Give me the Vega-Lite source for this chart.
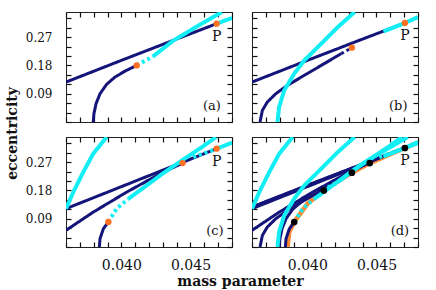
{
  "$schema": "https://vega.github.io/schema/vega-lite/v6.json",
  "padding": {"left": 4, "top": 10, "right": 0, "bottom": 0},
  "background": "white",
  "config": {
    "view": {"stroke": "#222", "strokeWidth": 1},
    "axis": {"grid": false, "domain": false, "ticks": true, "offset": -5, "tickSize": 5, "tickColor": "#111", "tickWidth": 1.2, "tickOpacity": 1,
      "labelFont": "DejaVu Serif", "labelColor": "#111", "labelOverlap": false, "labelFlush": false,
      "titleFont": "DejaVu Serif", "titleFontWeight": "bold", "titleFontSize": 14, "titleColor": "#111"},
    "axisX": {"labelFontSize": 14, "labelPadding": 11},
    "axisY": {"labelFontSize": 12, "labelPadding": 14}
  },
  "datasets": {
    "curves": [
      {"p":"a","id":"a1","f":"n","d":"s","x":0.036,"y":0.127},
      {"p":"a","id":"a1","f":"n","d":"s","x":0.040,"y":0.196},
      {"p":"a","id":"a1","f":"n","d":"s","x":0.044,"y":0.264},
      {"p":"a","id":"a1","f":"n","d":"s","x":0.04689,"y":0.3128},
      {"p":"a","id":"a2","f":"n","d":"s","x":0.03797,"y":0},
      {"p":"a","id":"a2","f":"n","d":"s","x":0.03802,"y":0.0265},
      {"p":"a","id":"a2","f":"n","d":"s","x":0.03817,"y":0.058},
      {"p":"a","id":"a2","f":"n","d":"s","x":0.03846,"y":0.090},
      {"p":"a","id":"a2","f":"n","d":"s","x":0.03894,"y":0.120},
      {"p":"a","id":"a2","f":"n","d":"s","x":0.03954,"y":0.143},
      {"p":"a","id":"a2","f":"n","d":"s","x":0.04027,"y":0.162},
      {"p":"a","id":"a2","f":"n","d":"s","x":0.04111,"y":0.180},
      {"p":"a","id":"a3","f":"c","d":"d","x":0.04111,"y":0.180},
      {"p":"a","id":"a3","f":"c","d":"d","x":0.0423,"y":0.209},
      {"p":"a","id":"a4","f":"c","d":"s","x":0.0423,"y":0.209},
      {"p":"a","id":"a4","f":"c","d":"s","x":0.04376,"y":0.259},
      {"p":"a","id":"a4","f":"c","d":"s","x":0.0455,"y":0.305},
      {"p":"a","id":"a4","f":"c","d":"s","x":0.04726,"y":0.35},
      {"p":"a","id":"a5","f":"c","d":"s","x":0.04689,"y":0.3128},
      {"p":"a","id":"a5","f":"c","d":"s","x":0.048,"y":0.331},

      {"p":"b","id":"b1","f":"n","d":"s","x":0.036,"y":0.127},
      {"p":"b","id":"b1","f":"n","d":"s","x":0.040,"y":0.196},
      {"p":"b","id":"b1","f":"n","d":"s","x":0.044,"y":0.264},
      {"p":"b","id":"b1","f":"n","d":"s","x":0.04705,"y":0.315},
      {"p":"b","id":"b2","f":"n","d":"s","x":0.03658,"y":0},
      {"p":"b","id":"b2","f":"n","d":"s","x":0.03675,"y":0.037},
      {"p":"b","id":"b2","f":"n","d":"s","x":0.03711,"y":0.0636},
      {"p":"b","id":"b2","f":"n","d":"s","x":0.03772,"y":0.090},
      {"p":"b","id":"b2","f":"n","d":"s","x":0.03857,"y":0.1167},
      {"p":"b","id":"b2","f":"n","d":"s","x":0.03978,"y":0.1485},
      {"p":"b","id":"b2","f":"n","d":"s","x":0.041,"y":0.180},
      {"p":"b","id":"b2","f":"n","d":"s","x":0.04245,"y":0.2174},
      {"p":"b","id":"b2d","f":"n","d":"d","x":0.04245,"y":0.2174},
      {"p":"b","id":"b2d","f":"n","d":"d","x":0.04322,"y":0.2365},
      {"p":"b","id":"b3","f":"c","d":"s","x":0.03784,"y":0},
      {"p":"b","id":"b3","f":"c","d":"s","x":0.03796,"y":0.0477},
      {"p":"b","id":"b3","f":"c","d":"s","x":0.03833,"y":0.1008},
      {"p":"b","id":"b3","f":"c","d":"s","x":0.03905,"y":0.1537},
      {"p":"b","id":"b3","f":"c","d":"s","x":0.03978,"y":0.196},
      {"p":"b","id":"b3","f":"c","d":"s","x":0.041,"y":0.249},
      {"p":"b","id":"b3","f":"c","d":"s","x":0.0422,"y":0.302},
      {"p":"b","id":"b3","f":"c","d":"s","x":0.04342,"y":0.35},
      {"p":"b","id":"b4","f":"c","d":"s","x":0.0455,"y":0.288},
      {"p":"b","id":"b4","f":"c","d":"s","x":0.04705,"y":0.315},
      {"p":"b","id":"b4","f":"c","d":"s","x":0.048,"y":0.334},

      {"p":"c","id":"c1","f":"c","d":"s","x":0.036,"y":0.122},
      {"p":"c","id":"c1","f":"c","d":"s","x":0.03653,"y":0.175},
      {"p":"c","id":"c1","f":"c","d":"s","x":0.03725,"y":0.2386},
      {"p":"c","id":"c1","f":"c","d":"s","x":0.03797,"y":0.297},
      {"p":"c","id":"c1","f":"c","d":"s","x":0.03894,"y":0.35},
      {"p":"c","id":"c2","f":"n","d":"s","x":0.036,"y":0.122},
      {"p":"c","id":"c2","f":"n","d":"s","x":0.040,"y":0.192},
      {"p":"c","id":"c2","f":"n","d":"s","x":0.044,"y":0.262},
      {"p":"c","id":"c2","f":"n","d":"s","x":0.04689,"y":0.3128},
      {"p":"c","id":"c3","f":"n","d":"s","x":0.036,"y":0.053},
      {"p":"c","id":"c3","f":"n","d":"s","x":0.03797,"y":0.111},
      {"p":"c","id":"c3","f":"n","d":"s","x":0.0404,"y":0.175},
      {"p":"c","id":"c3","f":"n","d":"s","x":0.0428,"y":0.233},
      {"p":"c","id":"c3","f":"n","d":"s","x":0.04443,"y":0.267},
      {"p":"c","id":"c4","f":"n","d":"s","x":0.03841,"y":0},
      {"p":"c","id":"c4","f":"n","d":"s","x":0.03846,"y":0.0265},
      {"p":"c","id":"c4","f":"n","d":"s","x":0.0387,"y":0.058},
      {"p":"c","id":"c4","f":"n","d":"s","x":0.03906,"y":0.0795},
      {"p":"c","id":"c5","f":"c","d":"d","x":0.03906,"y":0.0795},
      {"p":"c","id":"c5","f":"c","d":"d","x":0.03966,"y":0.122},
      {"p":"c","id":"c5","f":"c","d":"d","x":0.0405,"y":0.153},
      {"p":"c","id":"c6","f":"c","d":"s","x":0.0405,"y":0.153},
      {"p":"c","id":"c6","f":"c","d":"s","x":0.0418,"y":0.195},
      {"p":"c","id":"c6","f":"c","d":"s","x":0.0430,"y":0.234},
      {"p":"c","id":"c6","f":"c","d":"s","x":0.0445,"y":0.279},
      {"p":"c","id":"c6","f":"c","d":"s","x":0.0459,"y":0.320},
      {"p":"c","id":"c6","f":"c","d":"s","x":0.04685,"y":0.35},
      {"p":"c","id":"c7","f":"c","d":"d","x":0.0452,"y":0.286},
      {"p":"c","id":"c7","f":"c","d":"d","x":0.04689,"y":0.3128},
      {"p":"c","id":"c8","f":"c","d":"s","x":0.04689,"y":0.3128},
      {"p":"c","id":"c8","f":"c","d":"s","x":0.048,"y":0.332},

      {"p":"d","id":"d1","f":"o","d":"s","x":0.03857,"y":0},
      {"p":"d","id":"d1","f":"o","d":"s","x":0.03869,"y":0.0477},
      {"p":"d","id":"d1","f":"o","d":"s","x":0.03905,"y":0.0795},
      {"p":"d","id":"d1","f":"o","d":"s","x":0.04002,"y":0.138},
      {"p":"d","id":"d1","f":"o","d":"s","x":0.04119,"y":0.180},
      {"p":"d","id":"d1","f":"o","d":"s","x":0.04322,"y":0.2365},
      {"p":"d","id":"d1","f":"o","d":"s","x":0.04451,"y":0.267},
      {"p":"d","id":"d1","f":"o","d":"s","x":0.04705,"y":0.315},
      {"p":"d","id":"d1","f":"o","d":"s","x":0.048,"y":0.332}
    ],
    "pts": [
      {"p":"a","x":0.04111,"y":0.180,"lab":""},
      {"p":"a","x":0.04689,"y":0.3128,"lab":"P"},
      {"p":"b","x":0.04322,"y":0.2365,"lab":""},
      {"p":"b","x":0.04705,"y":0.315,"lab":"P"},
      {"p":"c","x":0.03906,"y":0.0795,"lab":""},
      {"p":"c","x":0.04443,"y":0.267,"lab":""},
      {"p":"c","x":0.04689,"y":0.3128,"lab":"P"},
      {"p":"d","x":0.03905,"y":0.0795,"lab":""},
      {"p":"d","x":0.04119,"y":0.180,"lab":""},
      {"p":"d","x":0.04322,"y":0.2365,"lab":""},
      {"p":"d","x":0.04451,"y":0.267,"lab":""},
      {"p":"d","x":0.04705,"y":0.315,"lab":"P"}
    ],
    "tags": [
      {"p":"a","x":0.04655,"y":0.051,"t":"(a)"},
      {"p":"b","x":0.04657,"y":0.05,"t":"(b)"},
      {"p":"c","x":0.04677,"y":0.05,"t":"(c)"},
      {"p":"d","x":0.04669,"y":0.05,"t":"(d)"}
    ]
  },
  "bounds": "flush",
  "spacing": {"row": 15, "column": 20},
  "columns": 2,
  "concat": [
        {
          "width": 166, "height": 110,
          "encoding": {
            "x": {"field":"x","type":"quantitative","scale":{"domain":[0.036,0.048],"nice":false,"zero":false},"axis":null},
            "y": {"field":"y","type":"quantitative","scale":{"domain":[0,0.35],"nice":false,"zero":false},"axis":null}
          },
          "layer": [
            {"data":{"name":"curves"},"transform":[{"filter":"datum.p=='a' && datum.f=='n'"}],
             "mark":{"type":"line","color":"#14147a","strokeWidth":3,"clip":true},
             "encoding":{
               "x":{"field":"x","type":"quantitative","scale":{"domain":[0.036,0.048],"nice":false,"zero":false},
                    "axis":{"orient":"bottom","values":[0.036,0.037,0.038,0.039,0.04,0.041,0.042,0.043,0.044,0.045,0.046,0.047,0.048],"labels":false,"title":null}},
               "y":{"field":"y","type":"quantitative","scale":{"domain":[0,0.35],"nice":false,"zero":false},
                    "axis":{"orient":"left","values":[0,0.03,0.06,0.09,0.12,0.15,0.18,0.21,0.24,0.27,0.3,0.33],
                            "labelExpr":"(datum.value>0.01 && abs(datum.value/0.09-round(datum.value/0.09))<1e-6) ? format(datum.value,'.2f') : ''",
                            "title":"eccentricity","titleX":-55,"titleY":121,"titleAngle":-90,"titleBaseline":"alphabetic","titleAlign":"center"}},
               "detail":{"field":"id"},
               "strokeDash":{"field":"d","type":"nominal","scale":{"domain":["s","d"],"range":[[1,0],[3,3]]},"legend":null}
             }},
            {"data":{"name":"curves"},"transform":[{"filter":"datum.p=='a' && datum.f=='c'"}],
             "mark":{"type":"line","color":"#12eef4","strokeWidth":4,"clip":true},
             "encoding":{"detail":{"field":"id"},
               "strokeDash":{"field":"d","type":"nominal","scale":{"domain":["s","d"],"range":[[1,0],[3,3]]},"legend":null}}},
            {"data":{"name":"pts"},"transform":[{"filter":"datum.p=='a'"}],
             "mark":{"type":"circle","size":40,"color":"#ff7020","opacity":1},
             "encoding":{
               "x":{"field":"x","type":"quantitative","scale":{"domain":[0.036,0.048],"nice":false,"zero":false},
                    "axis":{"orient":"top","values":[0.036,0.037,0.038,0.039,0.04,0.041,0.042,0.043,0.044,0.045,0.046,0.047,0.048],"labels":false,"title":null}},
               "y":{"field":"y","type":"quantitative","scale":{"domain":[0,0.35],"nice":false,"zero":false},
                    "axis":{"orient":"right","values":[0,0.03,0.06,0.09,0.12,0.15,0.18,0.21,0.24,0.27,0.3,0.33],"labels":false,"title":null}}
             }},
            {"data":{"name":"pts"},"transform":[{"filter":"datum.p=='a' && datum.lab=='P'"}],
             "mark":{"type":"text","dy":13,"font":"DejaVu Serif","fontSize":14,"color":"#111"},
             "encoding":{"text":{"field":"lab"}}},
            {"data":{"name":"tags"},"transform":[{"filter":"datum.p=='a'"}],
             "mark":{"type":"text","font":"DejaVu Serif","fontSize":13,"color":"#111"},
             "encoding":{"text":{"field":"t"}}}
          ]
        },
        {
          "width": 166, "height": 110,
          "encoding": {
            "x": {"field":"x","type":"quantitative","scale":{"domain":[0.036,0.048],"nice":false,"zero":false},"axis":null},
            "y": {"field":"y","type":"quantitative","scale":{"domain":[0,0.35],"nice":false,"zero":false},"axis":null}
          },
          "layer": [
            {"data":{"name":"curves"},"transform":[{"filter":"datum.p=='b' && datum.f=='n'"}],
             "mark":{"type":"line","color":"#14147a","strokeWidth":3,"clip":true},
             "encoding":{
               "x":{"field":"x","type":"quantitative","scale":{"domain":[0.036,0.048],"nice":false,"zero":false},
                    "axis":{"orient":"bottom","values":[0.036,0.037,0.038,0.039,0.04,0.041,0.042,0.043,0.044,0.045,0.046,0.047,0.048],"labels":false,"title":null}},
               "y":{"field":"y","type":"quantitative","scale":{"domain":[0,0.35],"nice":false,"zero":false},
                    "axis":{"orient":"left","values":[0,0.03,0.06,0.09,0.12,0.15,0.18,0.21,0.24,0.27,0.3,0.33],"labels":false,"title":null}},
               "detail":{"field":"id"},
               "strokeDash":{"field":"d","type":"nominal","scale":{"domain":["s","d"],"range":[[1,0],[3,3]]},"legend":null}
             }},
            {"data":{"name":"curves"},"transform":[{"filter":"datum.p=='b' && datum.f=='c'"}],
             "mark":{"type":"line","color":"#12eef4","strokeWidth":4,"clip":true},
             "encoding":{"detail":{"field":"id"},
               "strokeDash":{"field":"d","type":"nominal","scale":{"domain":["s","d"],"range":[[1,0],[3,3]]},"legend":null}}},
            {"data":{"name":"pts"},"transform":[{"filter":"datum.p=='b'"}],
             "mark":{"type":"circle","size":40,"color":"#ff7020","opacity":1},
             "encoding":{
               "x":{"field":"x","type":"quantitative","scale":{"domain":[0.036,0.048],"nice":false,"zero":false},
                    "axis":{"orient":"top","values":[0.036,0.037,0.038,0.039,0.04,0.041,0.042,0.043,0.044,0.045,0.046,0.047,0.048],"labels":false,"title":null}},
               "y":{"field":"y","type":"quantitative","scale":{"domain":[0,0.35],"nice":false,"zero":false},
                    "axis":{"orient":"right","values":[0,0.03,0.06,0.09,0.12,0.15,0.18,0.21,0.24,0.27,0.3,0.33],"labels":false,"title":null}}
             }},
            {"data":{"name":"pts"},"transform":[{"filter":"datum.p=='b' && datum.lab=='P'"}],
             "mark":{"type":"text","dy":13,"font":"DejaVu Serif","fontSize":14,"color":"#111"},
             "encoding":{"text":{"field":"lab"}}},
            {"data":{"name":"tags"},"transform":[{"filter":"datum.p=='b'"}],
             "mark":{"type":"text","font":"DejaVu Serif","fontSize":13,"color":"#111"},
             "encoding":{"text":{"field":"t"}}}
          ]
        },
        {
          "width": 166, "height": 110,
          "encoding": {
            "x": {"field":"x","type":"quantitative","scale":{"domain":[0.036,0.048],"nice":false,"zero":false},"axis":null},
            "y": {"field":"y","type":"quantitative","scale":{"domain":[0,0.35],"nice":false,"zero":false},"axis":null}
          },
          "layer": [
            {"data":{"name":"curves"},"transform":[{"filter":"datum.p=='c' && datum.f=='n'"}],
             "mark":{"type":"line","color":"#14147a","strokeWidth":3,"clip":true},
             "encoding":{
               "x":{"field":"x","type":"quantitative","scale":{"domain":[0.036,0.048],"nice":false,"zero":false},
                    "axis":{"orient":"bottom","values":[0.036,0.037,0.038,0.039,0.04,0.041,0.042,0.043,0.044,0.045,0.046,0.047,0.048],
                            "labelExpr":"abs(datum.value-0.04)<1e-7 ? '0.040' : (abs(datum.value-0.045)<1e-7 ? '0.045' : '')",
                            "title":"mass parameter","titleX":174,"titleY":43,"titleBaseline":"alphabetic","titleAlign":"center"}},
               "y":{"field":"y","type":"quantitative","scale":{"domain":[0,0.35],"nice":false,"zero":false},
                    "axis":{"orient":"left","values":[0,0.03,0.06,0.09,0.12,0.15,0.18,0.21,0.24,0.27,0.3,0.33],
                            "labelExpr":"(datum.value>0.01 && abs(datum.value/0.09-round(datum.value/0.09))<1e-6) ? format(datum.value,'.2f') : ''",
                            "title":null}},
               "detail":{"field":"id"},
               "strokeDash":{"field":"d","type":"nominal","scale":{"domain":["s","d"],"range":[[1,0],[3,3]]},"legend":null}
             }},
            {"data":{"name":"curves"},"transform":[{"filter":"datum.p=='c' && datum.f=='c'"}],
             "mark":{"type":"line","color":"#12eef4","strokeWidth":4,"clip":true},
             "encoding":{"detail":{"field":"id"},
               "strokeDash":{"field":"d","type":"nominal","scale":{"domain":["s","d"],"range":[[1,0],[3,3]]},"legend":null}}},
            {"data":{"name":"pts"},"transform":[{"filter":"datum.p=='c'"}],
             "mark":{"type":"circle","size":40,"color":"#ff7020","opacity":1},
             "encoding":{
               "x":{"field":"x","type":"quantitative","scale":{"domain":[0.036,0.048],"nice":false,"zero":false},
                    "axis":{"orient":"top","values":[0.036,0.037,0.038,0.039,0.04,0.041,0.042,0.043,0.044,0.045,0.046,0.047,0.048],"labels":false,"title":null}},
               "y":{"field":"y","type":"quantitative","scale":{"domain":[0,0.35],"nice":false,"zero":false},
                    "axis":{"orient":"right","values":[0,0.03,0.06,0.09,0.12,0.15,0.18,0.21,0.24,0.27,0.3,0.33],"labels":false,"title":null}}
             }},
            {"data":{"name":"pts"},"transform":[{"filter":"datum.p=='c' && datum.lab=='P'"}],
             "mark":{"type":"text","dy":13,"font":"DejaVu Serif","fontSize":14,"color":"#111"},
             "encoding":{"text":{"field":"lab"}}},
            {"data":{"name":"tags"},"transform":[{"filter":"datum.p=='c'"}],
             "mark":{"type":"text","font":"DejaVu Serif","fontSize":13,"color":"#111"},
             "encoding":{"text":{"field":"t"}}}
          ]
        },
        {
          "width": 166, "height": 110,
          "encoding": {
            "x": {"field":"x","type":"quantitative","scale":{"domain":[0.036,0.048],"nice":false,"zero":false},"axis":null},
            "y": {"field":"y","type":"quantitative","scale":{"domain":[0,0.35],"nice":false,"zero":false},"axis":null}
          },
          "layer": [
            {"data":{"name":"curves"},"transform":[{"filter":"datum.f=='o'"}],
             "mark":{"type":"line","color":"#ff7a1a","strokeWidth":4.5,"opacity":0.9,"clip":true},
             "encoding":{
               "x":{"field":"x","type":"quantitative","scale":{"domain":[0.036,0.048],"nice":false,"zero":false},
                    "axis":{"orient":"bottom","values":[0.036,0.037,0.038,0.039,0.04,0.041,0.042,0.043,0.044,0.045,0.046,0.047,0.048],
                            "labelExpr":"abs(datum.value-0.04)<1e-7 ? '0.040' : (abs(datum.value-0.045)<1e-7 ? '0.045' : '')",
                            "title":null}},
               "y":{"field":"y","type":"quantitative","scale":{"domain":[0,0.35],"nice":false,"zero":false},
                    "axis":{"orient":"left","values":[0,0.03,0.06,0.09,0.12,0.15,0.18,0.21,0.24,0.27,0.3,0.33],"labels":false,"title":null}},
               "detail":{"field":"id"}
             }},
            {"data":{"name":"curves"},"transform":[{"filter":"datum.f=='n'"}],
             "mark":{"type":"line","color":"#14147a","strokeWidth":3,"clip":true},
             "encoding":{"detail":{"field":"id"},
               "strokeDash":{"field":"d","type":"nominal","scale":{"domain":["s","d"],"range":[[1,0],[3,3]]},"legend":null}}},
            {"data":{"name":"curves"},"transform":[{"filter":"datum.f=='c'"}],
             "mark":{"type":"line","color":"#12eef4","strokeWidth":4,"clip":true},
             "encoding":{"detail":{"field":"id"},
               "strokeDash":{"field":"d","type":"nominal","scale":{"domain":["s","d"],"range":[[1,0],[3,3]]},"legend":null}}},
            {"data":{"name":"pts"},"transform":[{"filter":"datum.p=='d'"}],
             "mark":{"type":"circle","size":45,"color":"#000000","opacity":1},
             "encoding":{
               "x":{"field":"x","type":"quantitative","scale":{"domain":[0.036,0.048],"nice":false,"zero":false},
                    "axis":{"orient":"top","values":[0.036,0.037,0.038,0.039,0.04,0.041,0.042,0.043,0.044,0.045,0.046,0.047,0.048],"labels":false,"title":null}},
               "y":{"field":"y","type":"quantitative","scale":{"domain":[0,0.35],"nice":false,"zero":false},
                    "axis":{"orient":"right","values":[0,0.03,0.06,0.09,0.12,0.15,0.18,0.21,0.24,0.27,0.3,0.33],"labels":false,"title":null}}
             }},
            {"data":{"name":"pts"},"transform":[{"filter":"datum.p=='d' && datum.lab=='P'"}],
             "mark":{"type":"text","dy":13,"font":"DejaVu Serif","fontSize":14,"color":"#111"},
             "encoding":{"text":{"field":"lab"}}},
            {"data":{"name":"tags"},"transform":[{"filter":"datum.p=='d'"}],
             "mark":{"type":"text","font":"DejaVu Serif","fontSize":13,"color":"#111"},
             "encoding":{"text":{"field":"t"}}}
          ]
        }
  ]
}
